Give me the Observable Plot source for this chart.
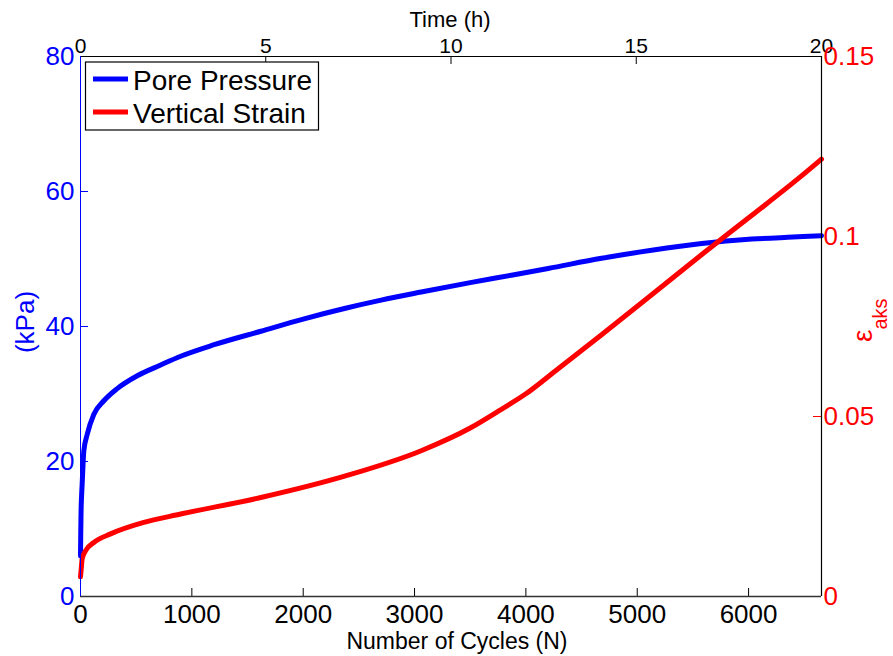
<!DOCTYPE html>
<html><head><meta charset="utf-8">
<script src="https://cdn.jsdelivr.net/npm/d3@7"></script>
<script src="https://cdn.jsdelivr.net/npm/@observablehq/plot@0.6"></script>
<style>body{margin:0;background:#fff} #chart{width:893px;height:656px}</style>
</head><body><div id="chart"></div>
<script>
// ---- data ----
const cycles = [0, 2, 5, 10, 15, 30, 60, 120, 210, 330, 510, 720, 900, 1200, 1620, 2000, 2380, 2700, 3060, 3500, 3870, 4200, 4680, 5130, 5580, 6030, 6400, 6655];
const porePressure = [6, 9, 12.5, 15, 16.7, 21.6, 24, 27, 29, 30.8, 32.7, 34.3, 35.6, 37.3, 39.3, 41.1, 42.7, 43.9, 45.1, 46.5, 47.6, 48.6, 50.1, 51.3, 52.3, 52.95, 53.25, 53.45];
const strainCycles = [0, 6, 15, 45, 120, 270, 570, 900, 1620, 2380, 3060, 3500, 3780, 4000, 4230, 4680, 5130, 5580, 6030, 6470, 6655];
const verticalStrain = [0.0055, 0.0075, 0.0105, 0.0127, 0.015, 0.0174, 0.0206, 0.0229, 0.0275, 0.0335, 0.0405, 0.0468, 0.052, 0.0563, 0.0618, 0.0727, 0.0838, 0.095, 0.1059, 0.1167, 0.1215];
const cycleTicks = [0, 1000, 2000, 3000, 4000, 5000, 6000];
const kpaTicks = [0, 20, 40, 60, 80];
const strainTicks = [0, 0.05, 0.1, 0.15];
const hourTicks = [0, 5, 10, 15, 20];
const seriesNames = ["Pore Pressure", "Vertical Strain"];
const maxCycles = 6655, maxHours = 20, maxKpa = 80, maxStrain = 0.15;

// ---- layout ----
const W = 893, H = 656, mL = 80, mR = 72, mT = 56, mB = 60;
const innerW = W - mL - mR, innerH = H - mT - mB;
const toKpa = s => s * maxKpa / maxStrain;
const toCycles = h => h * maxCycles / maxHours;
const BLUE = "#0000ff", RED = "#ff0000";
const font = "'Liberation Sans', Arial, Helvetica, sans-serif";
const tk = 8;

const ppData = cycles.map((c, i) => ({c, v: porePressure[i]}));
const stData = strainCycles.map((c, i) => ({c, v: toKpa(verticalStrain[i])}));

const plot = Plot.plot({
  width: W, height: H, marginLeft: mL, marginRight: mR, marginTop: mT, marginBottom: mB,
  style: {fontFamily: font, background: "white", color: "black"},
  x: {domain: [0, maxCycles]},
  y: {domain: [0, maxKpa]},
  marks: [
    Plot.gridX({ticks: cycleTicks, stroke: "#000", strokeOpacity: 1, insetTop: innerH - tk}),
    Plot.gridX({ticks: hourTicks.map(toCycles), stroke: "#000", strokeOpacity: 1, insetBottom: innerH - tk}),
    Plot.gridY({ticks: kpaTicks, stroke: BLUE, strokeOpacity: 1, insetRight: innerW - tk}),
    Plot.gridY({ticks: strainTicks.map(toKpa), stroke: RED, strokeOpacity: 1, insetLeft: innerW - tk}),
    Plot.line(ppData, {x: "c", y: "v", stroke: BLUE, strokeWidth: 5, curve: "monotone-x"}),
    Plot.line(stData, {x: "c", y: "v", stroke: RED, strokeWidth: 5, curve: "monotone-x"}),
    Plot.ruleY([0], {stroke: "#333", strokeWidth: 1.5}),
    Plot.ruleY([maxKpa], {stroke: "#000", strokeWidth: 1.2}),
    Plot.ruleX([0], {stroke: BLUE, strokeWidth: 1}),
    Plot.ruleX([maxCycles], {stroke: "#000", strokeWidth: 1.2}),
    Plot.axisX({ticks: cycleTicks, anchor: "bottom", tickSize: 0, tickPadding: 8, fontSize: 26, label: null, color: "#000",
      tickFormat: d => String(d)}),
    Plot.axisX({ticks: hourTicks.map(toCycles), anchor: "top", tickSize: 0, tickPadding: 4, fontSize: 21, label: null, color: "#000",
      tickFormat: d => String(Math.round(d * maxHours / maxCycles))}),
    Plot.axisY({ticks: kpaTicks, anchor: "left", tickSize: 0, tickPadding: 6, fontSize: 26, label: null, color: BLUE, fill: BLUE}),
    Plot.axisY({ticks: strainTicks.map(toKpa), anchor: "right", tickSize: 0, tickPadding: 2, fontSize: 26, label: null, color: RED, fill: RED,
      tickFormat: d => String(+(d * maxStrain / maxKpa).toFixed(4))})
  ]
});
document.getElementById("chart").appendChild(plot);

// ---- labels and legend ----
const svg = d3.select(plot);
svg.append("text").attr("x", 450).attr("y", 27).attr("text-anchor", "middle")
  .attr("font-family", font).attr("font-size", 22).attr("fill", "#000").text("Time (h)");
svg.append("text").attr("x", 457).attr("y", 649).attr("text-anchor", "middle")
  .attr("font-family", font).attr("font-size", 23).attr("fill", "#000").text("Number of Cycles (N)");
svg.append("text").attr("transform", "translate(34,322) rotate(-90)").attr("text-anchor", "middle")
  .attr("font-family", font).attr("font-size", 26).attr("fill", BLUE).text("(kPa)");
const eps = svg.append("text").attr("transform", "translate(872,342) rotate(-90)")
  .attr("text-anchor", "start").attr("font-family", font).attr("fill", RED);
eps.append("tspan").attr("font-size", 28).text("ε");
eps.append("tspan").attr("font-size", 20).attr("dy", 15).text("aks");

const lg = svg.append("g").attr("text-anchor", "start");
lg.append("rect").attr("x", 85.5).attr("y", 62).attr("width", 233).attr("height", 68)
  .attr("fill", "#fff").attr("stroke", "#000").attr("stroke-width", 1.2);
[BLUE, RED].forEach((c, i) => {
  const y = 79 + i * 33;
  lg.append("line").attr("x1", 93).attr("x2", 128).attr("y1", y).attr("y2", y)
    .attr("stroke", c).attr("stroke-width", 5);
  lg.append("text").attr("x", 133).attr("y", y + 10.5).attr("text-anchor", "start").attr("font-family", font)
    .attr("font-size", 28).attr("fill", "#000").text(seriesNames[i]);
});
</script>
</body></html>
